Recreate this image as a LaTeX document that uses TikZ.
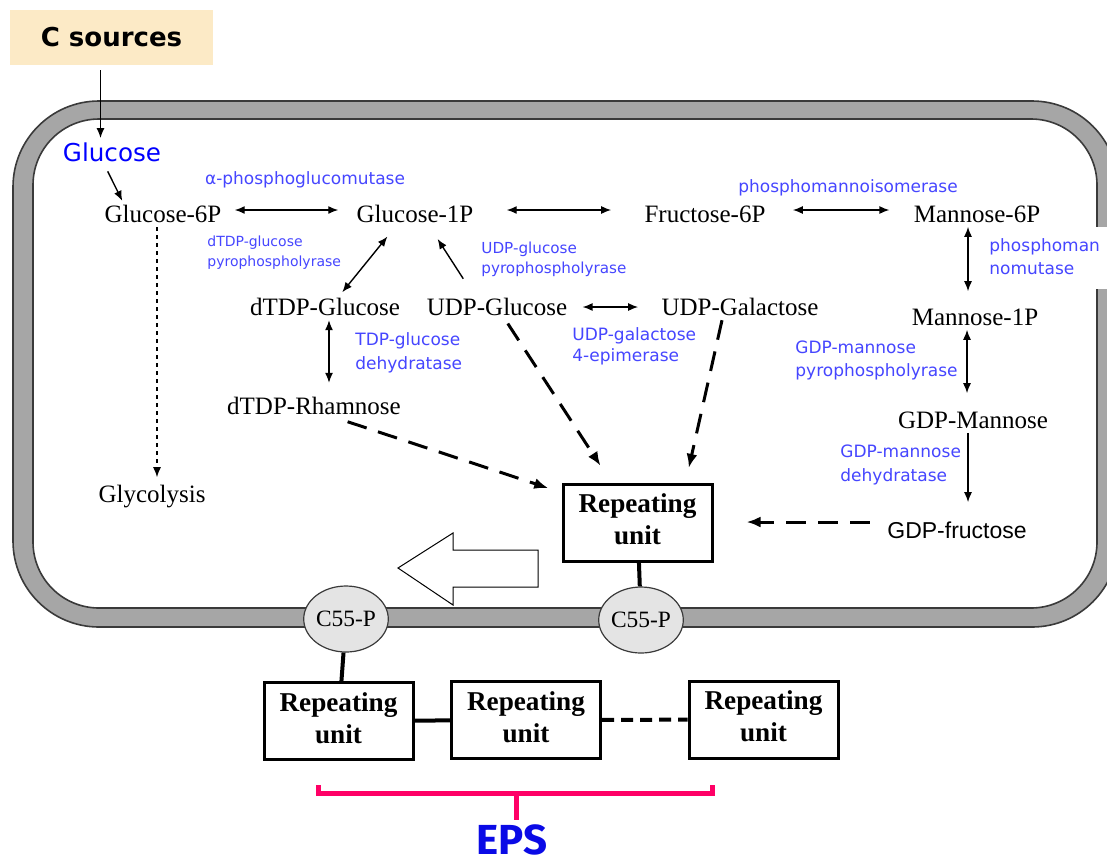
\documentclass[tikz,border=0pt]{standalone}
\usepackage{fontspec}
\setmainfont{Liberation Serif}
\newfontfamily\enzfont{DejaVu Sans}
\newfontfamily\arialfont{Liberation Sans}
\newfontfamily\epsfont{Fira Sans}
\usetikzlibrary{positioning,arrows.meta,shapes.geometric}

\begin{document}
\begin{tikzpicture}[x=0.5pt,y=-0.5pt]
  \definecolor{peach}{HTML}{FCEAC6}
  \definecolor{wallgray}{HTML}{A6A6A6}
  \definecolor{darkwall}{HTML}{3A3A3A}
  \definecolor{lipidgray}{HTML}{E4E4E4}
  \definecolor{enzblue}{HTML}{4646FF}
  \definecolor{glcblue}{HTML}{0000FF}
  \definecolor{epsblue}{HTML}{0A0AE6}
  \definecolor{epspink}{HTML}{FF0066}
  \newcommand{\metab}[1]{\fontsize{12.5}{15}\selectfont #1}
  \newcommand{\enzdesc}[3]{\enzfont\fontsize{#1}{#2}\selectfont\begin{tabular}{@{}l@{}}#3\end{tabular}}
  \newcommand{\unitname}[1]{\fontsize{13.6}{16}\selectfont\bfseries\begin{tabular}{c}#1\end{tabular}}
  \tikzstyle{metabolite}  = [inner sep=2pt]
  \tikzstyle{enzyme}      = [inner sep=1pt, text=enzblue, anchor=west]
  \tikzstyle{unitbox}     = [rectangle, draw, line width=1.5pt, minimum width=74.5pt, minimum height=38.5pt, inner sep=0pt]
  \tikzstyle{lipid}       = [ellipse, draw=darkwall, line width=0.6pt, fill=lipidgray, minimum width=41pt, minimum height=33pt, inner sep=0pt]
  \tikzstyle{connector}   = [line width=0.7pt, -{Latex[length=5pt,width=4pt]}]
  \tikzstyle{biconnector} = [line width=0.7pt, {Latex[length=5pt,width=4pt]}-{Latex[length=5pt,width=4pt]}]
  \tikzstyle{dashconn}    = [line width=1.5pt, dash pattern=on 10pt off 6pt, -{Latex[length=7pt,width=5.5pt]}]
  \tikzstyle{bond}        = [line width=2pt]
  \useasboundingbox (0,0) rectangle (1107,863);
  % cell wall
  \draw[darkwall, line width=0.8pt, fill=wallgray, rounded corners=43pt] (13,101) rectangle (1118,627);
  \draw[darkwall, line width=0.8pt, fill=white, rounded corners=33pt] (33,119) rectangle (1097,608);
  % carbon source
  \node[fill=peach, minimum width=101.5pt, minimum height=27.5pt] (csrc) at (111.5,37.5) {\enzfont\fontsize{13}{15}\selectfont\bfseries C sources};
  \node[text=glcblue, inner sep=2pt] (glc) at (112,152) {\enzfont\fontsize{12.3}{14}\selectfont Glucose};
  % metabolites
  \node[metabolite] (glc6p)      at (163,214) {\metab{Glucose-6P}};
  \node[metabolite] (glc1p)      at (415,214) {\metab{Glucose-1P}};
  \node[metabolite] (fru6p)      at (705,214) {\metab{Fructose-6P}};
  \node[metabolite] (man6p)      at (977,214) {\metab{Mannose-6P}};
  \node[metabolite] (dtdpglc)    at (325,307) {\metab{dTDP-Glucose}};
  \node[metabolite] (udpglc)     at (497,307) {\metab{UDP-Glucose}};
  \node[metabolite] (udpgal)     at (740,307) {\metab{UDP-Galactose}};
  \node[metabolite] (man1p)      at (975,317) {\metab{Mannose-1P}};
  \node[metabolite] (dtdprha)    at (314,406) {\metab{dTDP-Rhamnose}};
  \node[metabolite] (gdpman)     at (973,420) {\metab{GDP-Mannose}};
  \node[metabolite] (glycolysis) at (152,497) {\metab{Glycolysis}};
  \node[metabolite] (gdpfru)     at (957,530) {\arialfont\fontsize{11.5}{14}\selectfont GDP-fructose};
  % enzymes
  \node[enzyme, anchor=center] (pgm) at (305,180) {\enzdesc{8.5}{11.5}{α-phosphoglucomutase}};
  \node[enzyme, anchor=center] (pmi) at (848,188) {\enzdesc{8.5}{11.5}{phosphomannoisomerase}};
  \node[enzyme] (rmla) at (205,252) {\enzdesc{7}{10}{dTDP-glucose\\pyrophospholyrase}};
  \node[enzyme] (galu) at (479,259) {\enzdesc{7.6}{10}{UDP-glucose\\pyrophospholyrase}};
  \node[enzyme, fill=white, text width=62pt, minimum height=31pt, inner xsep=2pt] (pmm) at (985,258) {\enzdesc{8.5}{11.5}{phosphoman\\nomutase}};
  \node[enzyme] (gale) at (570,347) {\enzdesc{8.5}{10.5}{UDP-galactose\\4-epimerase}};
  \node[enzyme] (rmlb) at (353,353) {\enzdesc{8.5}{12}{TDP-glucose\\dehydratase}};
  \node[enzyme] (manc) at (793,360) {\enzdesc{8.5}{11.5}{GDP-mannose\\pyrophospholyrase}};
  \node[enzyme] (gmd)  at (838,465) {\enzdesc{8.5}{12}{GDP-mannose\\dehydratase}};
  % repeating units and carrier lipid
  \node[unitbox] (repunit) at (637.5,522.5) {\unitname{Repeating\\unit}};
  \node[lipid]   (c55r)    at (641,620) {\fontsize{11.7}{14}\selectfont C55-P};
  \node[lipid]   (c55l)    at (346,619) {\fontsize{11.7}{14}\selectfont C55-P};
  \node[unitbox] (ru1)     at (338.5,721) {\unitname{Repeating\\unit}};
  \node[unitbox] (ru2)     at (526,720) {\unitname{Repeating\\unit}};
  \node[unitbox] (ru3)     at (763.5,719.5) {\unitname{Repeating\\unit}};
  \node[text=epsblue, inner sep=1pt] (eps) at (512,840) {\epsfont\fontsize{21}{24}\selectfont\bfseries EPS};
  % export arrow
  \draw[line width=0.5pt, fill=white] (398,568) -- (453,533) -- (453,550) -- (538,550) -- (538,587) -- (453,587) -- (453,605) -- cycle;
  % pathway
  \draw[connector, shorten <=2.5pt] ([xshift=-5.5pt]csrc.south) -- ([xshift=-5.5pt]csrc.south |- glc.north);
  \draw[connector, shorten <=3pt] ([xshift=-3.5pt]glc.south) -- ([xshift=11pt]glc6p.north west);
  \draw[biconnector, shorten <=4.5pt, shorten >=7pt] ([yshift=2pt]glc6p.east) -- ([yshift=2pt]glc1p.west);
  \draw[biconnector, shorten <=14.5pt, shorten >=14.5pt] ([yshift=2pt]glc1p.east) -- ([yshift=2pt]fru6p.west);
  \draw[biconnector, shorten <=11.5pt, shorten >=10pt] ([yshift=2pt]fru6p.east) -- ([yshift=2pt]man6p.west);
  \draw[biconnector, shorten >=6.5pt] ([xshift=-4.5pt]man6p.south) -- ([xshift=-4.5pt]man6p.south |- man1p.north);
  \draw[biconnector, shorten >=7pt] ([xshift=-4pt]man1p.south) -- ([xshift=-4pt]man1p.south |- gdpman.north);
  \draw[connector, shorten >=7.5pt] ([xshift=-2.5pt]gdpman.south) -- ([xshift=-2.5pt]gdpman.south |- gdpfru.north);
  \draw[biconnector, shorten <=1pt, shorten >=6pt] ([xshift=8pt]dtdpglc.north) -- ([xshift=-10pt]glc1p.south);
  \draw[connector, shorten <=9pt, shorten >=7pt] ([xshift=-12pt]udpglc.north) -- ([xshift=7.5pt]glc1p.south);
  \draw[biconnector, shorten >=5pt] ([xshift=2pt]dtdpglc.south) -- ([xshift=2pt]dtdpglc.south |- dtdprha.north);
  \draw[biconnector, shorten <=5.5pt, shorten >=9.5pt] (udpglc.east) -- (udpglc.east -| udpgal.west);
  \draw[connector, dash pattern=on 2pt off 2pt, shorten >=2pt] ([xshift=-3pt]glc6p.south) -- ([xshift=-3pt]glc6p.south |- glycolysis.north);
  % to the repeating unit
  \draw[dashconn, shorten <=4pt, shorten >=7pt] ([xshift=13pt]dtdprha.south) -- ([yshift=-5pt]repunit.north west);
  \draw[dashconn, shorten <=2pt, shorten >=10pt] (udpglc) -- (repunit);
  \draw[dashconn, shorten >=7.5pt] ([xshift=-9pt]udpgal.south) -- ([xshift=-14pt]repunit.north east);
  \draw[dashconn, shorten <=6.5pt, shorten >=16.5pt] ([yshift=4pt]gdpfru.west) -- ([yshift=4pt]gdpfru.west -| repunit.east);
  \draw[bond] (repunit) -- (c55r);
  \draw[bond] (c55l) -- (ru1);
  \draw[bond] (ru1) -- (ru2);
  \draw[bond, dash pattern=on 6pt off 3.5pt] (ru2) -- (ru3);
  % polymer bracket
  \draw[epspink, line width=2.5pt] (318,785) -- (318,793) -- (712,793) -- (712,785) (516,793) -- (516,820);
\end{tikzpicture}
\end{document}
